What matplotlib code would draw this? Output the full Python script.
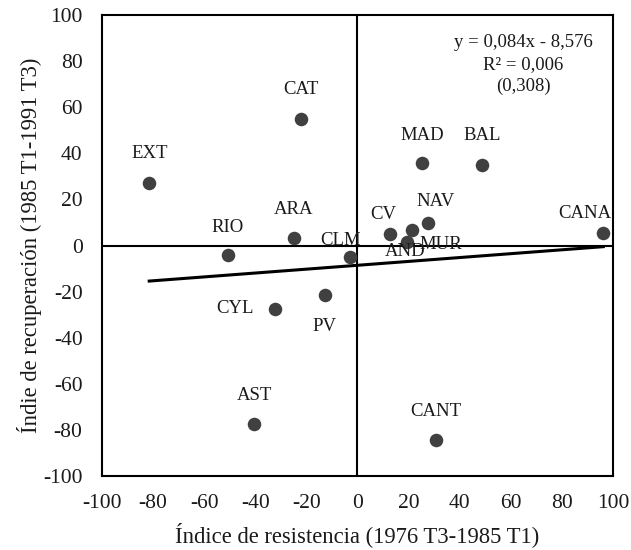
import numpy as np
import matplotlib.pyplot as plt

plt.rcParams['font.family'] = ['Liberation Serif', 'DejaVu Serif']
plt.rcParams['axes.unicode_minus'] = False

# region codes and index values
regions = ["EXT", "CAT", "ARA", "RIO", "CLM", "MAD", "BAL", "CV", "NAV",
           "MUR", "AND", "CANA", "CYL", "PV", "AST", "CANT"]
resistencia = [-81.5, -22.2, -25.0, -50.7, -2.8, 25.2, 48.7, 12.8, 27.5,
               19.2, 21.2, 96.2, -32.2, -12.8, -40.5, 30.6]
recuperacion = [27.2, 54.9, 3.1, -4.3, -5.0, 35.7, 34.9, 5.1, 9.9,
                1.6, 6.7, 5.3, -27.5, -21.5, -77.6, -84.4]

# label offsets in pixels (dx, dy) relative to each point
label_offsets = {
    "EXT": (0, 29), "CAT": (0, 29), "ARA": (0, 29), "RIO": (0, 28),
    "CLM": (-10, 17), "MAD": (0, 28), "BAL": (0, 30), "CV": (-7, 19),
    "NAV": (8, 21), "MUR": (34, -3), "AND": (-7, -21), "CANA": (-18, 20),
    "CYL": (-40, 0), "PV": (0, -31), "AST": (0, 29), "CANT": (0, 29),
}

# trend line as printed on the chart
slope, intercept = 0.084, -8.576
eq_lines = ["y = 0,084x - 8,576", "R² = 0,006", "(0,308)"]

fig = plt.figure(figsize=(6.31, 5.50), dpi=100)
ax = fig.add_axes([0.1616, 0.1345, 0.8099, 0.8382])

ax.axhline(0, color='black', lw=1.5, zorder=1)
ax.axvline(0, color='black', lw=1.5, zorder=1)

xs = np.array([min(resistencia), max(resistencia)])
ax.plot(xs, slope * xs + intercept, color='black', lw=2.2, zorder=2)

ax.scatter(resistencia, recuperacion, s=95, color='#404040', zorder=3,
           linewidths=0)

for name, x, y in zip(regions, resistencia, recuperacion):
    dx, dy = label_offsets[name]
    ax.annotate(name, (x, y), xytext=(dx, dy), textcoords='offset pixels',
                ha='center', va='center', fontsize=13.5, color='#1a1a1a',
                zorder=4)

for i, line in enumerate(eq_lines):
    ax.text(0.825, 0.94 - i * 0.047, line, transform=ax.transAxes,
            ha='center', va='center', fontsize=13.5, color='#1a1a1a')

ax.set_xlim(-100, 100)
ax.set_ylim(-100, 100)
ax.set_xticks(range(-100, 101, 20))
ax.set_yticks(range(-100, 101, 20))
ax.tick_params(length=0, labelsize=15.5, colors='#1a1a1a')
ax.tick_params(axis='x', pad=13)
ax.tick_params(axis='y', pad=14)
for s in ax.spines.values():
    s.set_linewidth(1.5)

ax.set_xlabel("Índice de resistencia (1976 T3-1985 T1)", fontsize=16.3,
              color='#1a1a1a', va='center')
ax.set_ylabel("Índie de recuperación (1985 T1-1991 T3)", fontsize=16.3,
              color='#1a1a1a', va='center')
ax.xaxis.set_label_coords(0.5, -0.128)
ax.yaxis.set_label_coords(-0.141, 0.5)

fig.savefig("out.png", dpi=100)
